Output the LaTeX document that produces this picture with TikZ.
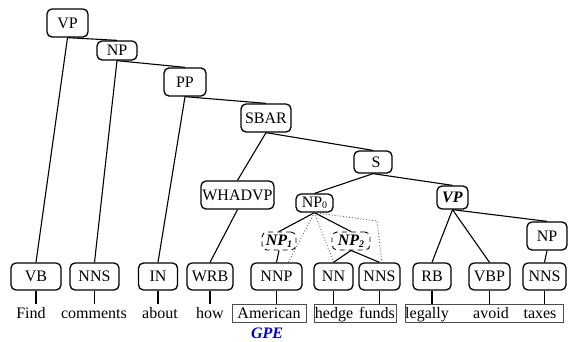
\documentclass[tikz,border=0pt]{standalone}
\usepackage{fontspec}
\setmainfont{Liberation Serif}
\begin{document}
\begin{tikzpicture}[x=1pt,y=-1pt,
  every node/.style={font=\fontsize{16}{19}\selectfont},
  tag/.style={draw, rounded corners=5pt, line width=1.3pt, inner sep=0pt, minimum height=28pt},
  dtag/.style={draw, dashed, dash pattern=on 5pt off 4pt, rounded corners=5pt, line width=0.9pt, inner sep=0pt, minimum height=18pt},
  edge/.style={line width=1.1pt},
  dotl/.style={dotted, line width=0.9pt, gray!70!black},
  word/.style={inner sep=0pt, text height=14pt, text depth=4pt, anchor=base},
  wbox/.style={draw=gray!60!black, line width=0.8pt, inner sep=0pt, minimum height=18pt}
]
\useasboundingbox (0,0) rectangle (568,341);
% upper nodes
\node[tag, minimum width=41pt] (VPa) at (67.5,23) {VP};
\node[tag, minimum width=40pt, minimum height=19pt] (NPa) at (117,50.5) {NP};
\node[tag, minimum width=42pt] (PP) at (185,82) {PP};
\node[tag, minimum width=50pt] (SBAR) at (266,118) {SBAR};
\node[tag, minimum width=73pt] (WHADVP) at (237.5,195) {WHADVP};
\node[tag, minimum width=38pt, minimum height=22pt] (S) at (373,162) {\hspace{6pt}S};
\node[tag, minimum width=37pt, minimum height=18pt] (NP0) at (314.5,203) {NP\raisebox{-1pt}{\fontsize{10}{10}\selectfont 0}};
\node[tag, minimum width=31pt, minimum height=23pt] (VPb) at (452.5,197.5) {\textbf{\textit{VP}}};
\node[tag, minimum width=40pt] (NPb) at (547,236) {NP};
\node[dtag, minimum width=34pt] (NP1) at (279,241) {\textbf{\textit{NP}}\raisebox{-2pt}{\fontsize{10}{10}\selectfont\textbf{\textit{1}}}};
\node[dtag, minimum width=38pt] (NP2) at (351,241) {\textbf{\textit{NP}}\raisebox{-2pt}{\fontsize{10}{10}\selectfont\textbf{\textit{2}}}};
% POS row
\node[tag, minimum width=50pt, minimum height=27pt] (VB) at (36,276.5) {VB};
\node[tag, minimum width=49pt, minimum height=27pt] (NNSa) at (94.5,276.5) {NNS};
\node[tag, minimum width=39pt, minimum height=27pt] (IN) at (158,276.5) {IN};
\node[tag, minimum width=46pt, minimum height=27pt] (WRB) at (210,276.5) {WRB};
\node[tag, minimum width=51pt, minimum height=27pt] (NNP) at (276.5,276.5) {NNP};
\node[tag, minimum width=39pt, minimum height=27pt] (NN) at (333.5,276.5) {NN};
\node[tag, minimum width=41pt, minimum height=27pt] (NNSb) at (379.5,276.5) {NNS};
\node[tag, minimum width=38pt, minimum height=27pt] (RB) at (432,276.5) {RB};
\node[tag, minimum width=41pt, minimum height=27pt] (VBP) at (489.5,276.5) {VBP};
\node[tag, minimum width=43pt, minimum height=27pt] (NNSc) at (544.5,276.5) {NNS};
% word boxes
\node[wbox, minimum width=74pt] (bAm) at (269,313) {};
\node[wbox, minimum width=82pt] (bHF) at (355,313) {};
\node[wbox, minimum width=158pt] (bLT) at (484,313) {};
% words
\node[word] (wFind) at (31,318) {Find};
\node[word] (wComments) at (94,318) {comments};
\node[word] (wAbout) at (160,318) {about};
\node[word] (wHow) at (210,318) {how};
\node[word] (wAmerican) at (269,318) {American};
\node[word] (wHedge) at (334,318) {hedge};
\node[word] (wFunds) at (377,318) {funds};
\node[word] (wLegally) at (427,318) {legally};
\node[word] (wAvoid) at (491,318) {avoid};
\node[word] (wTaxes) at (540,318) {taxes};
\node[inner sep=0pt, anchor=base, text=blue!90!black] (GPE) at (267,338) {\textbf{\textit{GPE}}};
% tree edges
\draw[edge] (VPa.south) -- (NPa.north);
\draw[edge] (VPa.south) -- (VB.north);
\draw[edge] (NPa.south) -- (PP.north);
\draw[edge] (NPa.south) -- (NNSa.north);
\draw[edge] (PP.south) -- (SBAR.north);
\draw[edge] (PP.south) -- (IN.north);
\draw[edge] (SBAR.south) -- (WHADVP.north);
\draw[edge] (SBAR.south) -- (S.north);
\draw[edge] (WHADVP.south) -- (WRB.north);
\draw[edge] (S.south) -- (NP0.north);
\draw[edge] (S.south) -- (VPb.north);
\draw[edge] (NP0.south) -- (NP1.north);
\draw[edge] (NP0.south) -- (NP2.north);
\draw[edge] (NP1.south) -- (NNP.north);
\draw[edge] (NP2.south) -- (NN.north);
\draw[edge] (NP2.south) -- (NNSb.north);
\draw[edge] (VPb.south) -- (RB.north);
\draw[edge] (VPb.south) -- (VBP.north);
\draw[edge] (VPb.south) -- (NPb.north);
\draw[edge] (NPb.south) -- (NNSc.north);
% dotted
\coordinate (d1) at (288,263);
\coordinate (d2) at (377,221);
\coordinate (d3) at (382,263);
\draw[dotl] (NP0.south) -- (d1);
\draw[dotl] (NP0.south) -- (NN.north);
\draw[dotl] (NP0.south) -- (d2) -- (d3);
% word links
\draw[edge] (VB.south) -- (VB.south |- wFind.north);
\draw[edge] (NNSa.south) -- (NNSa.south |- wComments.north);
\draw[edge] (IN.south) -- (IN.south |- wAbout.north);
\draw[edge] (WRB.south) -- (WRB.south |- wHow.north);
\draw[edge] (NNP.south) -- (NNP.south |- bAm.north);
\draw[edge] (NN.south) -- (NN.south |- bHF.north);
\draw[edge] (NNSb.south) -- (NNSb.south |- bHF.north);
\draw[edge] (RB.south) -- (RB.south |- bLT.north);
\draw[edge] (VBP.south) -- (VBP.south |- bLT.north);
\draw[edge] (NNSc.south) -- (NNSc.south |- bLT.north);
\end{tikzpicture}
\end{document}
